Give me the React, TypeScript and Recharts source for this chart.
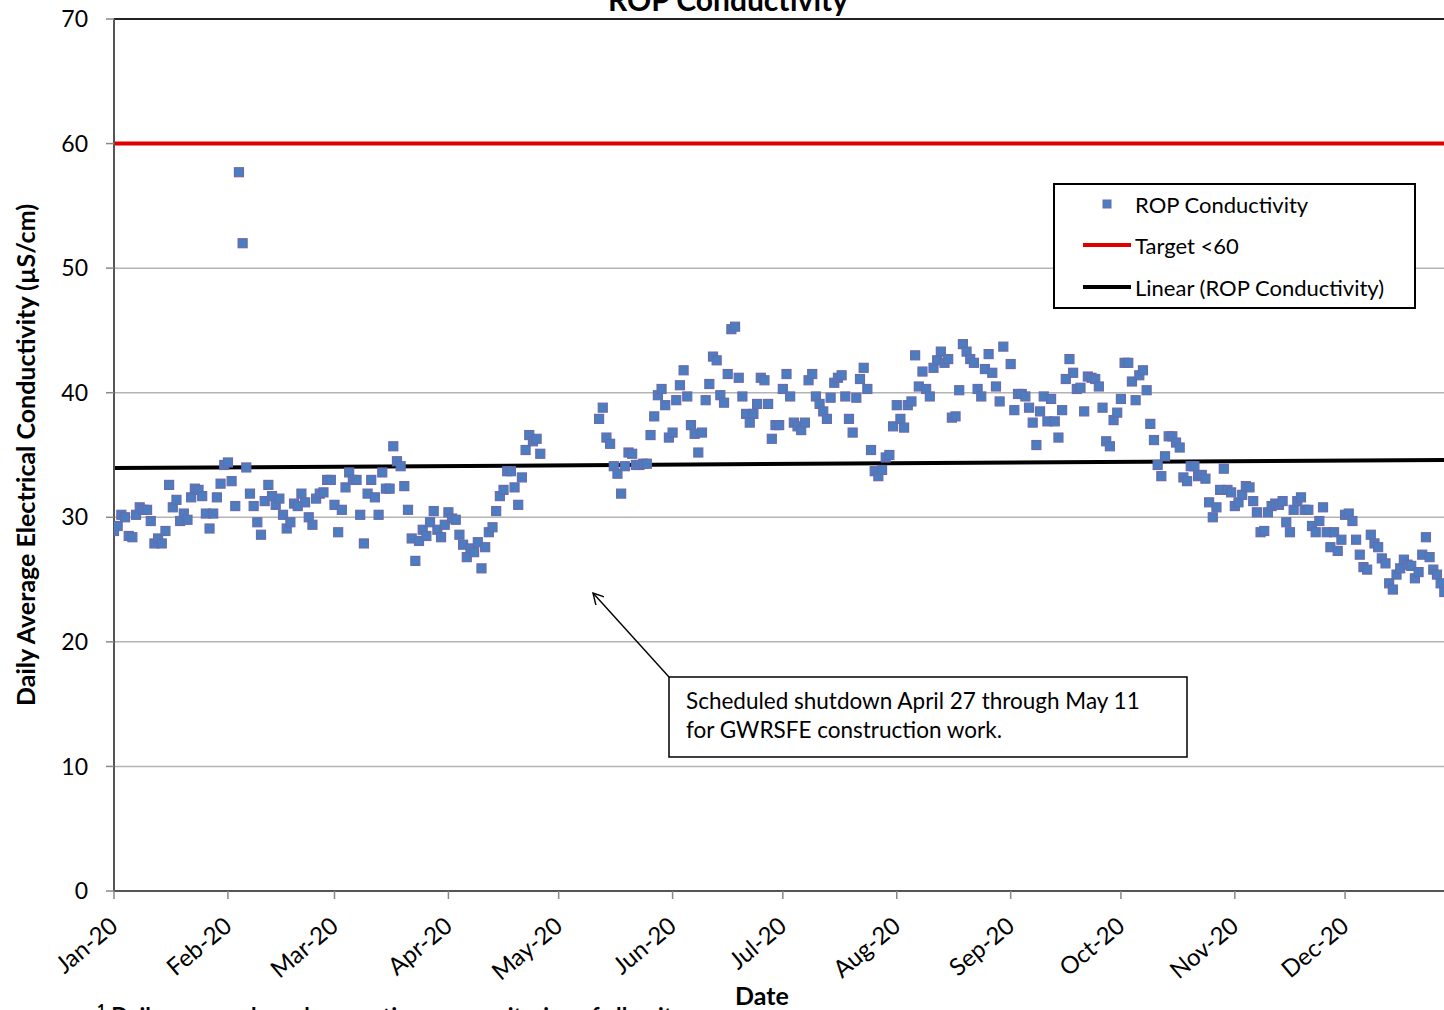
import { ComposedChart, Scatter, Line, XAxis, YAxis, CartesianGrid, ReferenceLine } from 'recharts';

// month ticks (day of year, Jan 1 2020 = 0)
const monthLabels = ['Jan-20', 'Feb-20', 'Mar-20', 'Apr-20', 'May-20', 'Jun-20', 'Jul-20', 'Aug-20', 'Sep-20', 'Oct-20', 'Nov-20', 'Dec-20'];
const monthStartDays = [0, 31, 60, 91, 121, 152, 182, 213, 244, 274, 305, 335];
const yTicks = [0, 10, 20, 30, 40, 50, 60, 70];

// daily average conductivity, one value per day from Jan 1; null = no data (shutdown)
const conductivity: (number | null)[] = [
  28.9, 29.3, 30.2, 30.0, 28.5, 28.4, 30.2, 30.8, 30.6, 30.6,
  29.7, 27.9, 28.3, 27.9, 28.9, 32.6, 30.8, 31.4, 29.7, 30.3,
  29.8, 31.6, 32.3, 32.2, 31.7, 30.3, 29.1, 30.3, 31.6, 32.7,
  34.2, 34.4, 32.9, 30.9, 57.7, 52.0, 34.0, 31.9, 30.9, 29.6,
  28.6, 31.3, 32.6, 31.7, 31.0, 31.5, 30.2, 29.1, 29.6, 31.1,
  30.9, 31.9, 31.2, 30.0, 29.4, 31.5, 31.9, 32.0, 33.0, 33.0,
  31.0, 28.8, 30.6, 32.4, 33.6, 33.0, 33.0, 30.2, 27.9, 31.9,
  33.0, 31.6, 30.2, 33.6, 32.3, 32.3, 35.7, 34.5, 34.1, 32.5,
  30.6, 28.3, 26.5, 28.1, 29.0, 28.5, 29.6, 30.5, 29.0, 28.4,
  29.4, 30.4, 29.9, 29.8, 28.6, 27.8, 26.8, 27.5, 27.2, 28.0,
  25.9, 27.6, 28.8, 29.2, 30.5, 31.7, 32.2, 33.7, 33.7, 32.4,
  31.0, 33.2, 35.4, 36.6, 36.1, 36.3, 35.1, null, null, null,
  null, null, null, null, null, null, null, null, null, null,
  null, null, 37.9, 38.8, 36.4, 35.9, 34.1, 33.5, 31.9, 34.1,
  35.2, 35.1, 34.2, 34.2, 34.3, 34.3, 36.6, 38.1, 39.8, 40.3,
  39.0, 36.4, 36.8, 39.4, 40.6, 41.8, 39.7, 37.4, 36.7, 35.2,
  36.8, 39.4, 40.7, 42.9, 42.6, 39.8, 39.2, 41.5, 45.1, 45.3,
  41.2, 39.7, 38.3, 37.6, 38.3, 39.1, 41.2, 41.0, 39.1, 36.3,
  37.4, 37.4, 40.3, 41.5, 39.7, 37.6, 37.3, 37.0, 37.6, 41.0,
  41.5, 39.7, 39.1, 38.5, 37.9, 39.6, 40.8, 41.2, 41.4, 39.7,
  37.9, 36.8, 39.6, 41.1, 42.0, 40.3, 35.4, 33.7, 33.3, 33.8,
  34.8, 35.0, 37.3, 39.0, 37.9, 37.2, 39.0, 39.3, 43.0, 40.5,
  41.7, 40.3, 39.7, 42.0, 42.6, 43.3, 42.4, 42.7, 38.0, 38.1,
  40.2, 43.9, 43.3, 42.7, 42.4, 40.3, 39.7, 41.9, 43.1, 41.6,
  40.5, 39.3, 43.7, null, 42.3, 38.6, 39.9, 39.9, 39.7, 38.8,
  37.6, 35.8, 38.5, 39.7, 37.7, 39.5, 37.7, 36.4, 38.6, 41.1,
  42.7, 41.6, 40.3, 40.4, 38.5, 41.3, 41.2, 41.1, 40.5, 38.8,
  36.1, 35.7, 37.8, 38.4, 39.5, 42.4, 42.4, 40.9, 39.4, 41.4,
  41.8, 40.2, 37.5, 36.2, 34.2, 33.3, 34.9, 36.5, 36.5, 36.0,
  35.6, 33.2, 32.9, 34.1, 34.1, 33.3, 33.4, 33.1, 31.2, 30.0,
  30.8, 32.2, 33.9, 32.2, 32.0, 30.9, 31.2, 31.8, 32.5, 32.4,
  31.3, 30.4, 28.8, 28.9, 30.4, 30.9, 31.1, 31.0, 31.3, 29.6,
  28.8, 30.6, 31.3, 31.6, 30.6, 30.6, 29.3, 28.8, 29.7, 30.8,
  28.8, 27.6, 28.8, 27.3, 28.2, 30.2, 30.3, 29.7, 28.2, 27.0,
  26.0, 25.8, 28.6, 27.9, 27.6, 26.7, 26.3, 24.7, 24.2, 25.4,
  25.9, 26.6, 26.2, 26.1, 25.1, 25.6, 27.0, 28.4, 26.8, 25.8,
  25.4, 24.7, 24.0,
];

const targetValue = 60;
// linear trend of ROP conductivity, value at Jan 1 2020 and Jan 1 2021
const trendDays = [0, 366];
const trendValues = [33.95, 34.61];

const points = conductivity
  .map((v, i) => (v == null ? null : { x: i, y: v }))
  .filter((p): p is { x: number; y: number } => p !== null);
const trendData = trendDays.map((d, i) => ({ x: d, y: trendValues[i] }));

const FONT = 'Lato, "Open Sans", sans-serif';
const MARKER_FILL = '#4A7EC0';
const MARKER_STROKE = '#6A6AAC';
const RED = '#E00000';

const SquareDot = (props: any) => {
  const { cx, cy } = props;
  if (cx == null || cy == null) return null;
  return <rect x={cx - 4.5} y={cy - 4.5} width={9} height={9} fill={MARKER_FILL} stroke={MARKER_STROKE} strokeWidth={1.2} />;
};

const MonthTick = (props: any) => {
  const { x, y, payload } = props;
  const label = monthLabels[monthStartDays.indexOf(payload.value)];
  return (
    <g transform={`translate(${x},${y + 23})`}>
      <text textAnchor="end" dy="0.35em" transform="rotate(-40)" fontSize={24} fontFamily={FONT} fill="#000">
        {label}
      </text>
    </g>
  );
};

export default function App() {
  return (
    <div style={{ position: 'fixed', left: 0, top: 0, width: 1444, height: 1010, overflow: 'hidden', background: '#fff' }}>
      <ComposedChart width={1480} height={1010} margin={{ top: 19, right: 21, bottom: 0, left: 0 }}>
        <CartesianGrid horizontal vertical={false} stroke="#b4b4b4" strokeWidth={1.5} />
        <XAxis
          dataKey="x"
          type="number"
          domain={[0, 366]}
          ticks={monthStartDays}
          interval={0}
          height={119}
          tickSize={8}
          tickMargin={0}
          tick={<MonthTick />}
          axisLine={{ stroke: '#555', strokeWidth: 2 }}
          tickLine={{ stroke: '#888', strokeWidth: 1.5 }}
          allowDataOverflow
        />
        <YAxis
          type="number"
          domain={[0, 70]}
          ticks={yTicks}
          interval={0}
          width={114}
          tickSize={8}
          tickMargin={18}
          tick={{ fontSize: 23, fontFamily: FONT, fill: '#000' }}
          axisLine={{ stroke: '#555', strokeWidth: 2 }}
          tickLine={{ stroke: '#888', strokeWidth: 1.5 }}
        />
        <ReferenceLine y={70} stroke="#222" strokeWidth={2} />
        <ReferenceLine y={targetValue} stroke={RED} strokeWidth={4} />
        <Scatter data={points} dataKey="y" shape={<SquareDot />} isAnimationActive={false} />
        <Line data={trendData} dataKey="y" stroke="#000" strokeWidth={4} dot={false} activeDot={false} isAnimationActive={false} />
      </ComposedChart>

      <svg width={1444} height={1010} style={{ position: 'absolute', left: 0, top: 0, pointerEvents: 'none' }}>
        <defs>
          <marker id="openArrow" viewBox="0 0 12 12" refX={11} refY={6} markerWidth={12} markerHeight={12} markerUnits="userSpaceOnUse" orient="auto">
            <path d="M0,0 L11,6 L0,12" fill="none" stroke="#000" strokeWidth={1.4} />
          </marker>
        </defs>
        <text x={728} y={11} textAnchor="middle" fontSize={30} fontWeight="bold" fontFamily={FONT} fill="#000">
          ROP Conductivity
        </text>
        <text
          x={25}
          y={455}
          transform="rotate(-90, 25, 455)"
          textAnchor="middle"
          dominantBaseline="central"
          fontSize={25}
          fontWeight="bold"
          fontFamily={FONT}
          fill="#000"
        >
          Daily Average Electrical Conductivity (µS/cm)
        </text>
        <text x={762} y={1005} textAnchor="middle" fontSize={25} fontWeight="bold" fontFamily={FONT} fill="#000">
          Date
        </text>
        <text x={97} y={1024} fontSize={22.5} fontWeight="bold" fontFamily={FONT} fill="#000">
          <tspan fontSize={15} dy={-9}>1</tspan>
          <tspan dy={9}> Daily average based on continuous monitoring of all units</tspan>
        </text>

        {/* legend */}
        <rect x={1054} y={184} width={361} height={124} fill="#fff" stroke="#000" strokeWidth={2} />
        <rect x={1103} y={200} width={8} height={8} fill={MARKER_FILL} stroke={MARKER_STROKE} strokeWidth={1} />
        <text x={1135} y={204} dominantBaseline="central" fontSize={22} fontFamily={FONT} fill="#000">ROP Conductivity</text>
        <line x1={1083} y1={245} x2={1131} y2={245} stroke={RED} strokeWidth={4} />
        <text x={1135} y={245} dominantBaseline="central" fontSize={22} fontFamily={FONT} fill="#000">Target &lt;60</text>
        <line x1={1083} y1={287} x2={1131} y2={287} stroke="#000" strokeWidth={4} />
        <text x={1135} y={287} dominantBaseline="central" fontSize={22} fontFamily={FONT} fill="#000">Linear (ROP Conductivity)</text>

        {/* annotation */}
        <line x1={669} y1={677} x2={593} y2={593} stroke="#000" strokeWidth={1.4} markerEnd="url(#openArrow)" />
        <rect x={669} y={677} width={518} height={80} fill="#fff" stroke="#000" strokeWidth={1.5} />
        <text x={686} y={709} fontSize={22.5} fontFamily={FONT} fill="#000">Scheduled shutdown April 27 through May 11</text>
        <text x={686} y={738} fontSize={22.5} fontFamily={FONT} fill="#000">for GWRSFE construction work.</text>
      </svg>
    </div>
  );
}
